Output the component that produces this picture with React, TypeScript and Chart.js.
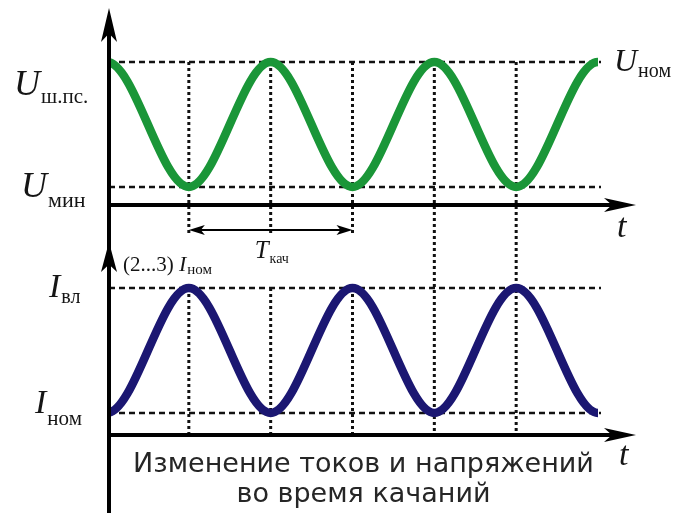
import React, { useEffect, useRef } from "react";
import { Chart, registerables } from "chart.js";

Chart.register(...registerables);

// Time in half-periods of the swing. The points at -1 and 7 only carry the
// wave past the ends of the window so it leaves the axes smoothly.
const SWING_T = [-1, 0, 1, 2, 3, 4, 5, 6, 7];

// Voltage levels (relative units): U ш.пс. = U ном at the top, U мин at the bottom
const U_HI = 1.0;
const U_LO = 0.5;
// Current levels (multiples of I ном): I вл ≈ (2…3) I ном
const I_LO = 1.0;
const I_HI = 2.5;

const VOLTAGE = [U_LO, U_HI, U_LO, U_HI, U_LO, U_HI, U_LO, U_HI, U_LO];
const CURRENT = [I_HI, I_LO, I_HI, I_LO, I_HI, I_LO, I_HI, I_LO, I_HI];

// Instants of the extremes, marked with dotted verticals
const MARK_T = [1, 2, 3, 4, 5];
// The swing period T кач spans from the first to the third mark
const PERIOD_FROM = 1;
const PERIOD_TO = 3;

// Where each time axis crosses its value scale
const U_AXIS = 0.428;
const I_AXIS = 0.736;

const T_MIN = 0;
const T_MAX = 6;

const GREEN = "#1a9638";
const NAVY = "#1b1772";
const INK = "#111111";
const SERIF = "'Liberation Serif', 'DejaVu Serif', serif";
const SANS = "'DejaVu Sans', 'Noto Sans', sans-serif";

type Ctx = CanvasRenderingContext2D;

function line(ctx: Ctx, x1: number, y1: number, x2: number, y2: number) {
  ctx.beginPath();
  ctx.moveTo(x1, y1);
  ctx.lineTo(x2, y2);
  ctx.stroke();
}

// Slim arrowhead with its tip at (x, y), pointing along (dx, dy)
function arrowHead(ctx: Ctx, x: number, y: number, dx: number, dy: number, len: number, half: number) {
  const px = -dy;
  const py = dx;
  ctx.beginPath();
  ctx.moveTo(x, y);
  ctx.lineTo(x - dx * len + px * half, y - dy * len + py * half);
  ctx.lineTo(x - dx * len * 0.75, y - dy * len * 0.75);
  ctx.lineTo(x - dx * len - px * half, y - dy * len - py * half);
  ctx.closePath();
  ctx.fill();
}

// Italic symbol followed by an upright subscript
function symbol(
  ctx: Ctx,
  main: string,
  sub: string,
  x: number,
  base: number,
  mainSize: number,
  subSize: number,
  subDrop: number,
  gap = 1
) {
  ctx.textAlign = "left";
  ctx.textBaseline = "alphabetic";
  ctx.font = `italic ${mainSize}px ${SERIF}`;
  ctx.fillText(main, x, base);
  const w = ctx.measureText(main).width;
  ctx.font = `${subSize}px ${SERIF}`;
  ctx.fillText(sub, x + w + gap, base + subDrop);
}

const gridPlugin = {
  id: "swingGrid",
  beforeDatasetsDraw(chart: any) {
    const { ctx, chartArea, scales } = chart;
    const x = scales.x;
    const yU = scales.yU;
    const yI = scales.yI;
    const left = chartArea.left + 2;
    const right = x.getPixelForValue(T_MAX) + 3;
    const uTop = yU.getPixelForValue(U_HI);
    const uLow = yU.getPixelForValue(U_LO);
    const iTop = yI.getPixelForValue(I_HI);
    const iLow = yI.getPixelForValue(I_LO);
    const uAxis = yU.getPixelForValue(U_AXIS);
    const iAxis = yI.getPixelForValue(I_AXIS);
    const spanY = uAxis + 25;

    ctx.save();
    ctx.strokeStyle = INK;
    ctx.lineWidth = 2.5;
    ctx.setLineDash([6, 4]);
    [uTop, uLow, iTop, iLow].forEach((y: number) => line(ctx, left, y, right, y));

    ctx.setLineDash([3, 3]);
    ctx.lineWidth = 3;
    MARK_T.forEach((t) => {
      const px = x.getPixelForValue(t);
      if (t <= PERIOD_TO) {
        line(ctx, px, uTop, px, spanY + 3);
        line(ctx, px, iTop, px, iAxis);
      } else {
        line(ctx, px, uTop, px, iAxis);
      }
    });
    ctx.restore();
  },
  afterDatasetsDraw(chart: any) {
    const { ctx, chartArea, scales } = chart;
    const x = scales.x;
    const yU = scales.yU;
    const yI = scales.yI;
    const ax = chartArea.left + 2;
    const uTop = yU.getPixelForValue(U_HI);
    const uLow = yU.getPixelForValue(U_LO);
    const iTop = yI.getPixelForValue(I_HI);
    const iLow = yI.getPixelForValue(I_LO);
    const uAxis = yU.getPixelForValue(U_AXIS);
    const iAxis = yI.getPixelForValue(I_AXIS);
    const tipX = x.getPixelForValue(T_MAX) + 38;
    const spanY = uAxis + 25;

    ctx.save();
    ctx.strokeStyle = "#000";
    ctx.fillStyle = "#000";
    ctx.lineWidth = 4;
    ctx.lineCap = "butt";

    // value axis, shared by both panels, with an arrow for each
    line(ctx, ax, chartArea.top + 14, ax, chart.height);
    arrowHead(ctx, ax, chartArea.top - 2, 0, -1, 34, 8);
    arrowHead(ctx, ax, iTop - 46, 0, -1, 30, 8);

    // time axes
    line(ctx, ax, uAxis, tipX - 14, uAxis);
    arrowHead(ctx, tipX, uAxis, 1, 0, 32, 7);
    line(ctx, ax, iAxis, tipX - 14, iAxis);
    arrowHead(ctx, tipX, iAxis, 1, 0, 32, 7);

    // swing period span
    const p1 = x.getPixelForValue(PERIOD_FROM);
    const p2 = x.getPixelForValue(PERIOD_TO);
    ctx.lineWidth = 2;
    line(ctx, p1 + 8, spanY, p2 - 8, spanY);
    arrowHead(ctx, p1, spanY, -1, 0, 16, 5);
    arrowHead(ctx, p2, spanY, 1, 0, 16, 5);

    ctx.fillStyle = "#151515";
    symbol(ctx, "U", "ш.пс.", 14, uTop + 33, 36, 21, 8);
    symbol(ctx, "U", "мин", 21, uLow + 10, 36, 22, 10);
    symbol(ctx, "U", "ном", tipX - 22, uTop + 9, 32, 20, 6);
    symbol(ctx, "I", "вл", 49, iTop + 9, 34, 20, 6);
    symbol(ctx, "I", "ном", 35, iLow, 34, 21, 12);
    symbol(ctx, "T", "кач", (p1 + p2) / 2 - 16, spanY + 28, 25, 14, 5);

    ctx.font = `21px ${SERIF}`;
    ctx.textAlign = "left";
    ctx.fillText("(2...3)", 123, iTop - 17);
    const w = ctx.measureText("(2...3) ").width;
    symbol(ctx, "I", "ном", 123 + w, iTop - 17, 22, 15, 3);

    ctx.font = `italic 34px ${SERIF}`;
    ctx.fillText("t", tipX - 19, uAxis + 32);
    ctx.fillText("t", tipX - 17, iAxis + 30);

    // caption
    ctx.fillStyle = "#262626";
    ctx.font = `27px ${SANS}`;
    ctx.textAlign = "center";
    const cx = (x.getPixelForValue(T_MIN) + x.getPixelForValue(T_MAX)) / 2 + 11;
    ctx.fillText("Изменение токов и напряжений", cx, iAxis + 37);
    ctx.fillText("во время качаний", cx, iAxis + 67);
    ctx.restore();
  },
};

export default function App() {
  const canvasRef = useRef<HTMLCanvasElement>(null);

  useEffect(() => {
    const canvas = canvasRef.current;
    if (!canvas) return;
    const common = {
      pointRadius: 0,
      borderWidth: 8.5,
      borderCapStyle: "round" as const,
      borderJoinStyle: "round" as const,
      cubicInterpolationMode: "monotone" as const,
      fill: false,
      clip: { left: 0, right: 0, top: false, bottom: false } as any,
    };
    const chart = new Chart(canvas, {
      type: "line",
      data: {
        datasets: [
          {
            ...common,
            label: "U",
            data: SWING_T.map((t, i) => ({ x: t, y: VOLTAGE[i] })),
            borderColor: GREEN,
            yAxisID: "yU",
          },
          {
            ...common,
            label: "I",
            data: SWING_T.map((t, i) => ({ x: t, y: CURRENT[i] })),
            borderColor: NAVY,
            yAxisID: "yI",
          },
        ],
      },
      options: {
        responsive: false,
        animation: false,
        devicePixelRatio: 1,
        layout: { padding: { left: 107, right: 77, top: 10, bottom: 3 } },
        plugins: { legend: { display: false }, tooltip: { enabled: false } },
        events: [],
        scales: {
          x: { type: "linear", min: T_MIN, max: T_MAX, display: false },
          yU: { type: "linear", position: "left", min: -0.792, max: 1.208, display: false },
          yI: { type: "linear", position: "left", min: -0.164, max: 5.836, display: false },
        },
      },
      plugins: [gridPlugin],
    });
    return () => chart.destroy();
  }, []);

  return (
    <div style={{ position: "fixed", left: 0, top: 0, width: 675, height: 513, background: "#fff" }}>
      <canvas ref={canvasRef} width={675} height={513} style={{ display: "block", width: 675, height: 513 }} />
    </div>
  );
}
